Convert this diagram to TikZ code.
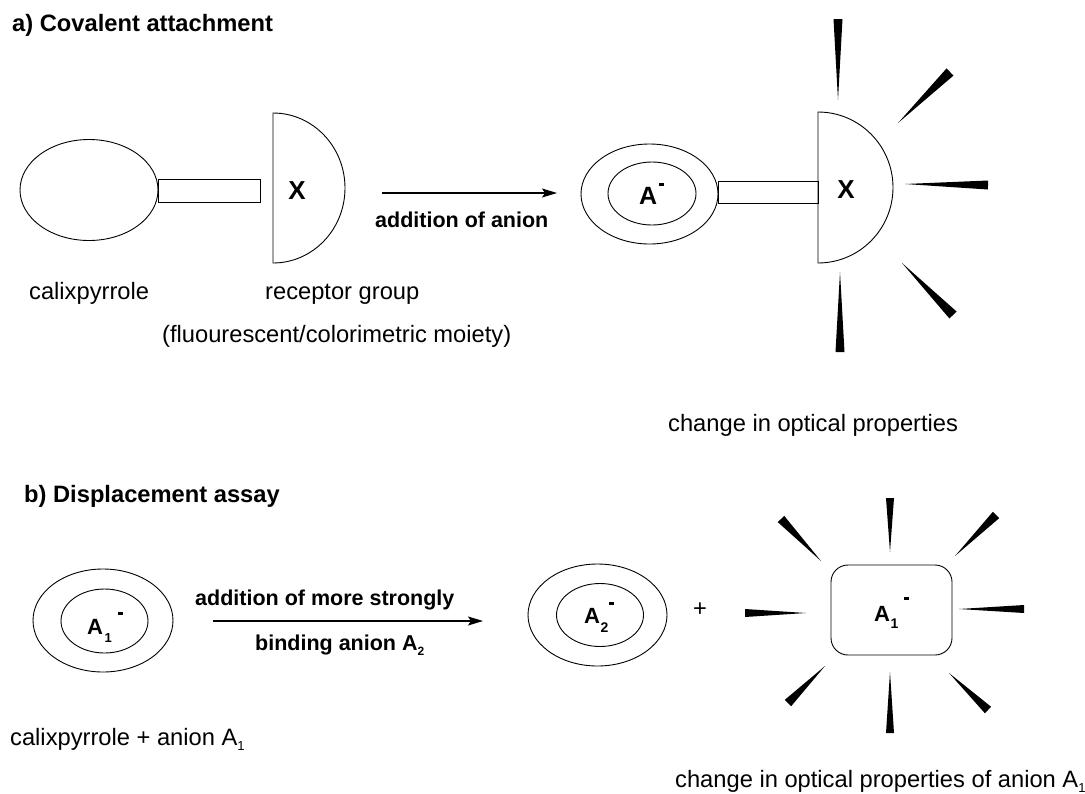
\documentclass[tikz,border=0pt]{standalone}
\usepackage{fontspec}
\setmainfont{Liberation Sans}
\usetikzlibrary{shapes.geometric,arrows.meta,calc}
\newcommand\fsT{\fontsize{23.7}{28}\selectfont}
\newcommand\fsL{\fontsize{21.5}{26}\selectfont}
\newcommand\supm[1]{\raisebox{#1}{\rule{5pt}{2.6pt}}}
\newcommand\subn[3]{\raisebox{-#1}{\fontsize{#2}{#2}\selectfont #3}}
\newcommand\lightray[3]{\fill ($(#1)!#3!90:(#2)$) -- (#2) -- ($(#1)!#3!-90:(#2)$) -- cycle;}
\begin{document}
\begin{tikzpicture}[x=1pt,y=-1pt,
  txt/.style={inner sep=0pt, anchor=base west, font=\fsT},
  ttl/.style={txt, font=\fsT\bfseries},
  alab/.style={txt, font=\fsL\bfseries},
  ring/.style={draw, ellipse, inner sep=0pt, line width=0.9pt},
  part/.style={draw, line width=0.9pt},
  linker/.style={part, rectangle, inner sep=0pt, anchor=west},
  rxn/.style={-{Stealth[length=15pt,width=9pt,inset=3pt]}, line width=1.1pt},
  ion/.style={inner sep=0pt, anchor=base west, font=\bfseries},
  bigx/.style={inner sep=0pt, font=\fontsize{26}{30}\selectfont\bfseries}]
\useasboundingbox (0,0) rectangle (1085,793);

% ---------- a) ----------
\node[ttl] (ta) at (12,31) {a) Covalent attachment};

\node[ring, minimum width=138pt, minimum height=101pt] (calixA) at (89,190) {};
\node[linker, minimum width=102pt, minimum height=23pt] (linkA) at (158,190.5) {};
\coordinate (recA) at (273,188);
\draw[part] (273,113) arc[start angle=-90,end angle=90,x radius=72,y radius=75] -- cycle;
\node[bigx] (xA) at (297,191) {X};

\node[txt] (lcalix) at (29,299) {calixpyrrole};
\node[txt] (lrec) at (265,299) {receptor group};
\node[txt] (lfluo) at (162,342) {(fluourescent/colorimetric moiety)};

\coordinate (a1s) at (382,193);
\coordinate (a1e) at (557,193);
\draw[rxn] (a1s) -- (a1e);
\node[alab] (la1) at (375,227) {addition of anion};

\node[ring, minimum width=137pt, minimum height=100pt] (calixB) at (649.5,194) {};
\node[ring, minimum width=88pt, minimum height=63pt] (anionB) at (652,193.5) {};
\node[ion] (aB) at (639,204) {\fontsize{25}{28}\selectfont A\kern2pt\supm{18.5pt}};
\node[linker, minimum width=100pt, minimum height=22pt] (linkB) at (718,192) {};
\coordinate (recB) at (818,187.5);
\draw[part] (818,112) arc[start angle=-90,end angle=90,x radius=75,y radius=75.5] -- cycle;
\node[bigx] (xB) at (846,190) {X};

\lightray{838,19}{838,100}{4.5pt}
\lightray{950,72}{898,123}{5pt}
\lightray{988,185}{905,184}{4.5pt}
\lightray{953,315}{902,263}{5pt}
\lightray{840,352}{840,272}{4.5pt}

\node[txt] (lopt) at (668,431) {change in optical properties};

% ---------- b) ----------
\node[ttl] (tb) at (24,502) {b) Displacement assay};

\node[ring, minimum width=140pt, minimum height=103pt] (calixC) at (103,620.5) {};
\node[ring, minimum width=87pt, minimum height=64pt] (anionC) at (104.5,621) {};
\node[ion] (aC) at (87,634) {\fontsize{22}{26}\selectfont A\kern1.5pt\subn{8pt}{13}{1}\kern6.5pt\supm{19.5pt}};
\node[txt] (lcalC) at (10,745) {calixpyrrole + anion A\subn{5pt}{13}{1}};

\coordinate (a2s) at (213,621);
\coordinate (a2e) at (483,621);
\draw[rxn] (a2s) -- (a2e);
\node[alab] (la2) at (195,605) {addition of more strongly};
\node[alab] (lb2) at (255,650) {binding anion A\subn{5pt}{12}{2}};

\node[ring, minimum width=139pt, minimum height=102pt] (calixD) at (597.5,615) {};
\node[ring, minimum width=87pt, minimum height=63pt] (anionD) at (600,615) {};
\node[ion] (aD) at (584,623) {\fontsize{22}{26}\selectfont A\kern0.5pt\subn{9pt}{14}{2}\kern1pt\supm{18.5pt}};

\node[inner sep=0pt, font=\fsT] (plus) at (700,610) {+};

\node[part, rectangle, rounded corners=17pt, minimum width=121pt, minimum height=90pt, inner sep=0pt] (freeA) at (891.5,610) {};
\node[ion] (aE) at (874,621) {\fontsize{22}{26}\selectfont A\kern0.5pt\subn{7pt}{14}{1}\kern5.5pt\supm{21.5pt}};

\lightray{890,498}{890,552}{4pt}
\lightray{781,519}{821,561}{4.5pt}
\lightray{996,515}{955,556}{4.5pt}
\lightray{745,613}{806,613}{4pt}
\lightray{1024,609}{959,609}{4pt}
\lightray{788,703}{825,666}{4.5pt}
\lightray{890,733}{890,672}{4pt}
\lightray{988,710}{949,673}{4.5pt}

\node[txt] (lopt2) at (675,787) {change in optical properties of anion A\subn{5pt}{13}{1}};
\end{tikzpicture}
\end{document}
